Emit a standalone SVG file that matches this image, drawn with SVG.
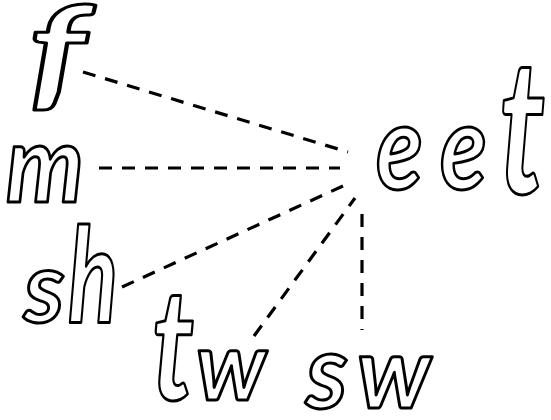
<svg xmlns="http://www.w3.org/2000/svg" width="551" height="420" viewBox="0 0 551 420">
<style>
.w{font-family:Lato,"Liberation Sans",sans-serif;font-style:italic;font-weight:700;fill:#fff;stroke:#000;stroke-width:3;stroke-linejoin:round}
.c{fill:none;stroke:#000;stroke-width:3.2;stroke-dasharray:13 10}
</style>
<rect width="551" height="420" fill="#fff"/>
<g id="connectors">
<line class="c" x1="83" y1="72" x2="348" y2="152"/>
<line class="c" x1="99" y1="168" x2="340" y2="168"/>
<line class="c" x1="122" y1="287" x2="343" y2="186"/>
<line class="c" x1="254" y1="336" x2="355" y2="198"/>
<line class="c" x1="362" y1="214" x2="362" y2="330"/>
</g>
<g id="f"><text class="w" x="28" y="95" font-size="122" textLength="58" lengthAdjust="spacingAndGlyphs">f</text></g>
<g id="m"><text class="w" x="6" y="202" font-size="108" textLength="78" lengthAdjust="spacingAndGlyphs">m</text></g>
<g id="sh"><text class="w" y="322"><tspan x="24" font-size="100">s</tspan><tspan x="68" font-size="132" textLength="50" lengthAdjust="spacingAndGlyphs">h</tspan></text></g>
<g id="tw"><text class="w" y="400"><tspan x="152" font-size="155" textLength="42" lengthAdjust="spacingAndGlyphs">t</tspan><tspan x="196" font-size="95">w</tspan></text></g>
<g id="sw"><text class="w" y="408"><tspan x="306" font-size="103">s</tspan><tspan x="357" font-size="100">w</tspan></text></g>
<g id="eet"><text class="w" y="189"><tspan x="376" font-size="118" textLength="47" lengthAdjust="spacingAndGlyphs">e</tspan><tspan x="440" font-size="118" textLength="47" lengthAdjust="spacingAndGlyphs">e</tspan><tspan x="499" dy="5" font-size="188" textLength="46" lengthAdjust="spacingAndGlyphs">t</tspan></text></g>
</svg>
